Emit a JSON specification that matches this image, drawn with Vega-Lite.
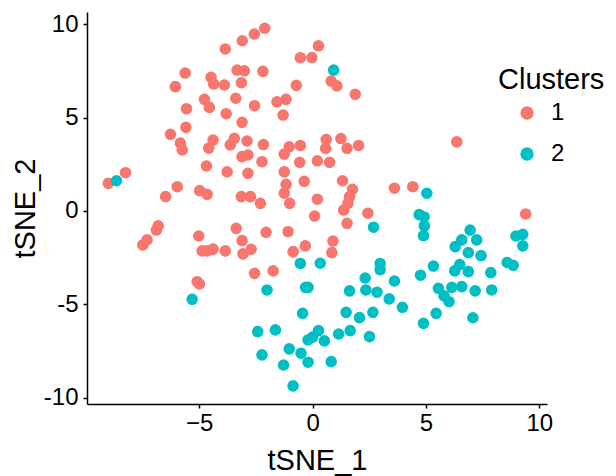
{
  "$schema": "https://vega.github.io/schema/vega-lite/v6.json",
  "autosize": {"type": "none"},
  "padding": {"left": 87, "top": 12, "right": 69, "bottom": 72},
  "width": 460,
  "height": 392,
  "background": "white",
  "config": {
    "view": {"stroke": null},
    "font": "Liberation Sans",
    "axis": {
      "grid": false,
      "domainColor": "black",
      "domainWidth": 1.5,
      "tickColor": "black",
      "tickWidth": 1.5,
      "tickSize": 4,
      "labelColor": "black",
      "labelFontSize": 24,
      "labelFont": "Liberation Sans",
      "titleFont": "Liberation Sans",
      "titleFontSize": 29,
      "titleFontWeight": "normal",
      "titleColor": "black"
    },
    "legend": {
      "titleFont": "Liberation Sans",
      "labelFont": "Liberation Sans",
      "titleFontSize": 29,
      "titleFontWeight": "normal",
      "titleColor": "black",
      "labelFontSize": 24,
      "labelColor": "black"
    }
  },
  "datasets": {
    "cells": [
      {"tSNE_1": -2.11, "tSNE_2": 9.79, "cluster": "1"},
      {"tSNE_1": -2.57, "tSNE_2": 9.48, "cluster": "1"},
      {"tSNE_1": -3.10, "tSNE_2": 9.12, "cluster": "1"},
      {"tSNE_1": -3.85, "tSNE_2": 8.68, "cluster": "1"},
      {"tSNE_1": 0.26, "tSNE_2": 8.85, "cluster": "1"},
      {"tSNE_1": -0.54, "tSNE_2": 8.21, "cluster": "1"},
      {"tSNE_1": -0.03, "tSNE_2": 8.22, "cluster": "1"},
      {"tSNE_1": -5.62, "tSNE_2": 7.39, "cluster": "1"},
      {"tSNE_1": -6.05, "tSNE_2": 6.66, "cluster": "1"},
      {"tSNE_1": -4.48, "tSNE_2": 7.16, "cluster": "1"},
      {"tSNE_1": -4.36, "tSNE_2": 6.80, "cluster": "1"},
      {"tSNE_1": -3.89, "tSNE_2": 6.75, "cluster": "1"},
      {"tSNE_1": -3.33, "tSNE_2": 7.55, "cluster": "1"},
      {"tSNE_1": -3.01, "tSNE_2": 7.51, "cluster": "1"},
      {"tSNE_1": -3.14, "tSNE_2": 6.87, "cluster": "1"},
      {"tSNE_1": -2.19, "tSNE_2": 7.48, "cluster": "1"},
      {"tSNE_1": -0.72, "tSNE_2": 6.73, "cluster": "1"},
      {"tSNE_1": -4.77, "tSNE_2": 5.98, "cluster": "1"},
      {"tSNE_1": -4.55, "tSNE_2": 5.55, "cluster": "1"},
      {"tSNE_1": -3.39, "tSNE_2": 6.04, "cluster": "1"},
      {"tSNE_1": -2.56, "tSNE_2": 5.64, "cluster": "1"},
      {"tSNE_1": -1.57, "tSNE_2": 5.85, "cluster": "1"},
      {"tSNE_1": -1.17, "tSNE_2": 5.98, "cluster": "1"},
      {"tSNE_1": -1.30, "tSNE_2": 5.14, "cluster": "1"},
      {"tSNE_1": -5.56, "tSNE_2": 5.48, "cluster": "1"},
      {"tSNE_1": -3.81, "tSNE_2": 5.21, "cluster": "1"},
      {"tSNE_1": -3.11, "tSNE_2": 4.75, "cluster": "1"},
      {"tSNE_1": -5.59, "tSNE_2": 4.48, "cluster": "1"},
      {"tSNE_1": -6.27, "tSNE_2": 4.11, "cluster": "1"},
      {"tSNE_1": -5.83, "tSNE_2": 3.64, "cluster": "1"},
      {"tSNE_1": -5.75, "tSNE_2": 3.27, "cluster": "1"},
      {"tSNE_1": -4.39, "tSNE_2": 3.80, "cluster": "1"},
      {"tSNE_1": -4.58, "tSNE_2": 3.37, "cluster": "1"},
      {"tSNE_1": -3.45, "tSNE_2": 3.89, "cluster": "1"},
      {"tSNE_1": -3.63, "tSNE_2": 3.54, "cluster": "1"},
      {"tSNE_1": -2.89, "tSNE_2": 3.75, "cluster": "1"},
      {"tSNE_1": -2.17, "tSNE_2": 3.56, "cluster": "1"},
      {"tSNE_1": -1.03, "tSNE_2": 3.44, "cluster": "1"},
      {"tSNE_1": -0.54, "tSNE_2": 3.51, "cluster": "1"},
      {"tSNE_1": 0.82, "tSNE_2": 6.96, "cluster": "1"},
      {"tSNE_1": 1.07, "tSNE_2": 6.70, "cluster": "1"},
      {"tSNE_1": 1.88, "tSNE_2": 6.25, "cluster": "1"},
      {"tSNE_1": 6.36, "tSNE_2": 3.70, "cluster": "1"},
      {"tSNE_1": 0.60, "tSNE_2": 3.83, "cluster": "1"},
      {"tSNE_1": 1.25, "tSNE_2": 3.88, "cluster": "1"},
      {"tSNE_1": 0.58, "tSNE_2": 3.35, "cluster": "1"},
      {"tSNE_1": 1.52, "tSNE_2": 3.36, "cluster": "1"},
      {"tSNE_1": 2.03, "tSNE_2": 3.51, "cluster": "1"},
      {"tSNE_1": -1.25, "tSNE_2": 3.05, "cluster": "1"},
      {"tSNE_1": -3.11, "tSNE_2": 2.91, "cluster": "1"},
      {"tSNE_1": -2.85, "tSNE_2": 3.00, "cluster": "1"},
      {"tSNE_1": -2.23, "tSNE_2": 2.64, "cluster": "1"},
      {"tSNE_1": -0.57, "tSNE_2": 2.61, "cluster": "1"},
      {"tSNE_1": 0.21, "tSNE_2": 2.69, "cluster": "1"},
      {"tSNE_1": 0.75, "tSNE_2": 2.61, "cluster": "1"},
      {"tSNE_1": -8.25, "tSNE_2": 2.05, "cluster": "1"},
      {"tSNE_1": -9.01, "tSNE_2": 1.48, "cluster": "1"},
      {"tSNE_1": -4.68, "tSNE_2": 2.41, "cluster": "1"},
      {"tSNE_1": -3.77, "tSNE_2": 2.10, "cluster": "1"},
      {"tSNE_1": -2.85, "tSNE_2": 2.02, "cluster": "1"},
      {"tSNE_1": -1.25, "tSNE_2": 2.10, "cluster": "1"},
      {"tSNE_1": -1.17, "tSNE_2": 1.43, "cluster": "1"},
      {"tSNE_1": -1.25, "tSNE_2": 0.95, "cluster": "1"},
      {"tSNE_1": -1.01, "tSNE_2": 0.41, "cluster": "1"},
      {"tSNE_1": -0.37, "tSNE_2": 1.59, "cluster": "1"},
      {"tSNE_1": 0.21, "tSNE_2": 0.63, "cluster": "1"},
      {"tSNE_1": 0.09, "tSNE_2": -0.27, "cluster": "1"},
      {"tSNE_1": -5.97, "tSNE_2": 1.30, "cluster": "1"},
      {"tSNE_1": -6.48, "tSNE_2": 0.77, "cluster": "1"},
      {"tSNE_1": -4.98, "tSNE_2": 1.09, "cluster": "1"},
      {"tSNE_1": -4.65, "tSNE_2": 0.89, "cluster": "1"},
      {"tSNE_1": -3.14, "tSNE_2": 0.77, "cluster": "1"},
      {"tSNE_1": -2.74, "tSNE_2": 0.77, "cluster": "1"},
      {"tSNE_1": -2.30, "tSNE_2": 0.41, "cluster": "1"},
      {"tSNE_1": -6.81, "tSNE_2": -0.80, "cluster": "1"},
      {"tSNE_1": -6.89, "tSNE_2": -1.02, "cluster": "1"},
      {"tSNE_1": -7.30, "tSNE_2": -1.55, "cluster": "1"},
      {"tSNE_1": -7.49, "tSNE_2": -1.82, "cluster": "1"},
      {"tSNE_1": -5.02, "tSNE_2": -1.34, "cluster": "1"},
      {"tSNE_1": -3.37, "tSNE_2": -0.93, "cluster": "1"},
      {"tSNE_1": -2.05, "tSNE_2": -1.14, "cluster": "1"},
      {"tSNE_1": -1.08, "tSNE_2": -1.11, "cluster": "1"},
      {"tSNE_1": -3.11, "tSNE_2": -1.59, "cluster": "1"},
      {"tSNE_1": -2.71, "tSNE_2": -2.05, "cluster": "1"},
      {"tSNE_1": -3.07, "tSNE_2": -2.30, "cluster": "1"},
      {"tSNE_1": -4.87, "tSNE_2": -2.14, "cluster": "1"},
      {"tSNE_1": -4.65, "tSNE_2": -2.14, "cluster": "1"},
      {"tSNE_1": -4.39, "tSNE_2": -2.04, "cluster": "1"},
      {"tSNE_1": -3.85, "tSNE_2": -2.14, "cluster": "1"},
      {"tSNE_1": -0.86, "tSNE_2": -2.18, "cluster": "1"},
      {"tSNE_1": -0.32, "tSNE_2": -1.87, "cluster": "1"},
      {"tSNE_1": -2.56, "tSNE_2": -3.34, "cluster": "1"},
      {"tSNE_1": -1.74, "tSNE_2": -3.21, "cluster": "1"},
      {"tSNE_1": -5.09, "tSNE_2": -3.79, "cluster": "1"},
      {"tSNE_1": -4.99, "tSNE_2": -3.91, "cluster": "1"},
      {"tSNE_1": 1.32, "tSNE_2": 1.62, "cluster": "1"},
      {"tSNE_1": 1.76, "tSNE_2": 1.16, "cluster": "1"},
      {"tSNE_1": 1.63, "tSNE_2": 0.77, "cluster": "1"},
      {"tSNE_1": 1.56, "tSNE_2": 0.41, "cluster": "1"},
      {"tSNE_1": 1.37, "tSNE_2": 0.05, "cluster": "1"},
      {"tSNE_1": 1.52, "tSNE_2": -0.66, "cluster": "1"},
      {"tSNE_1": 2.44, "tSNE_2": -0.12, "cluster": "1"},
      {"tSNE_1": 3.61, "tSNE_2": 1.22, "cluster": "1"},
      {"tSNE_1": 4.42, "tSNE_2": 1.30, "cluster": "1"},
      {"tSNE_1": 9.40, "tSNE_2": -0.16, "cluster": "1"},
      {"tSNE_1": 0.90, "tSNE_2": -1.61, "cluster": "1"},
      {"tSNE_1": 0.85, "tSNE_2": -2.23, "cluster": "1"},
      {"tSNE_1": 0.93, "tSNE_2": 7.55, "cluster": "2"},
      {"tSNE_1": -8.65, "tSNE_2": 1.62, "cluster": "2"},
      {"tSNE_1": 5.04, "tSNE_2": 0.95, "cluster": "2"},
      {"tSNE_1": 4.70, "tSNE_2": -0.19, "cluster": "2"},
      {"tSNE_1": 4.92, "tSNE_2": -0.32, "cluster": "2"},
      {"tSNE_1": 4.93, "tSNE_2": -0.80, "cluster": "2"},
      {"tSNE_1": 4.89, "tSNE_2": -1.32, "cluster": "2"},
      {"tSNE_1": 2.69, "tSNE_2": -0.87, "cluster": "2"},
      {"tSNE_1": -0.54, "tSNE_2": -2.81, "cluster": "2"},
      {"tSNE_1": 0.34, "tSNE_2": -2.80, "cluster": "2"},
      {"tSNE_1": 2.98, "tSNE_2": -2.81, "cluster": "2"},
      {"tSNE_1": 2.98, "tSNE_2": -3.14, "cluster": "2"},
      {"tSNE_1": 2.32, "tSNE_2": -3.59, "cluster": "2"},
      {"tSNE_1": 3.61, "tSNE_2": -3.75, "cluster": "2"},
      {"tSNE_1": 4.76, "tSNE_2": -3.44, "cluster": "2"},
      {"tSNE_1": 5.33, "tSNE_2": -2.95, "cluster": "2"},
      {"tSNE_1": 6.95, "tSNE_2": -1.02, "cluster": "2"},
      {"tSNE_1": 7.24, "tSNE_2": -1.55, "cluster": "2"},
      {"tSNE_1": 6.58, "tSNE_2": -1.55, "cluster": "2"},
      {"tSNE_1": 6.29, "tSNE_2": -1.91, "cluster": "2"},
      {"tSNE_1": 6.87, "tSNE_2": -2.23, "cluster": "2"},
      {"tSNE_1": 7.43, "tSNE_2": -2.39, "cluster": "2"},
      {"tSNE_1": 6.49, "tSNE_2": -2.87, "cluster": "2"},
      {"tSNE_1": 6.27, "tSNE_2": -3.21, "cluster": "2"},
      {"tSNE_1": 6.87, "tSNE_2": -3.25, "cluster": "2"},
      {"tSNE_1": 7.86, "tSNE_2": -3.30, "cluster": "2"},
      {"tSNE_1": 8.58, "tSNE_2": -2.76, "cluster": "2"},
      {"tSNE_1": 8.85, "tSNE_2": -2.91, "cluster": "2"},
      {"tSNE_1": 8.97, "tSNE_2": -1.34, "cluster": "2"},
      {"tSNE_1": 9.27, "tSNE_2": -1.25, "cluster": "2"},
      {"tSNE_1": 9.27, "tSNE_2": -1.87, "cluster": "2"},
      {"tSNE_1": -5.31, "tSNE_2": -4.73, "cluster": "2"},
      {"tSNE_1": -2.01, "tSNE_2": -4.23, "cluster": "2"},
      {"tSNE_1": -0.31, "tSNE_2": -4.09, "cluster": "2"},
      {"tSNE_1": -0.20, "tSNE_2": -4.09, "cluster": "2"},
      {"tSNE_1": -0.44, "tSNE_2": -5.48, "cluster": "2"},
      {"tSNE_1": -2.42, "tSNE_2": -6.46, "cluster": "2"},
      {"tSNE_1": -1.64, "tSNE_2": -6.37, "cluster": "2"},
      {"tSNE_1": -2.23, "tSNE_2": -7.71, "cluster": "2"},
      {"tSNE_1": -1.03, "tSNE_2": -7.39, "cluster": "2"},
      {"tSNE_1": -0.51, "tSNE_2": -7.62, "cluster": "2"},
      {"tSNE_1": -0.20, "tSNE_2": -8.10, "cluster": "2"},
      {"tSNE_1": -1.28, "tSNE_2": -8.25, "cluster": "2"},
      {"tSNE_1": -0.86, "tSNE_2": -9.37, "cluster": "2"},
      {"tSNE_1": -0.20, "tSNE_2": -6.91, "cluster": "2"},
      {"tSNE_1": 0.00, "tSNE_2": -6.76, "cluster": "2"},
      {"tSNE_1": 0.26, "tSNE_2": -6.41, "cluster": "2"},
      {"tSNE_1": 0.52, "tSNE_2": -6.96, "cluster": "2"},
      {"tSNE_1": 1.15, "tSNE_2": -6.59, "cluster": "2"},
      {"tSNE_1": 1.66, "tSNE_2": -6.41, "cluster": "2"},
      {"tSNE_1": 2.51, "tSNE_2": -6.73, "cluster": "2"},
      {"tSNE_1": 0.82, "tSNE_2": -8.07, "cluster": "2"},
      {"tSNE_1": 1.63, "tSNE_2": -4.28, "cluster": "2"},
      {"tSNE_1": 2.35, "tSNE_2": -4.23, "cluster": "2"},
      {"tSNE_1": 2.84, "tSNE_2": -4.35, "cluster": "2"},
      {"tSNE_1": 3.38, "tSNE_2": -4.71, "cluster": "2"},
      {"tSNE_1": 3.96, "tSNE_2": -5.16, "cluster": "2"},
      {"tSNE_1": 1.48, "tSNE_2": -5.43, "cluster": "2"},
      {"tSNE_1": 2.07, "tSNE_2": -5.71, "cluster": "2"},
      {"tSNE_1": 2.66, "tSNE_2": -5.43, "cluster": "2"},
      {"tSNE_1": 5.55, "tSNE_2": -4.14, "cluster": "2"},
      {"tSNE_1": 6.14, "tSNE_2": -4.09, "cluster": "2"},
      {"tSNE_1": 6.58, "tSNE_2": -4.05, "cluster": "2"},
      {"tSNE_1": 7.17, "tSNE_2": -4.28, "cluster": "2"},
      {"tSNE_1": 7.90, "tSNE_2": -4.23, "cluster": "2"},
      {"tSNE_1": 5.80, "tSNE_2": -4.55, "cluster": "2"},
      {"tSNE_1": 6.02, "tSNE_2": -4.86, "cluster": "2"},
      {"tSNE_1": 5.45, "tSNE_2": -5.48, "cluster": "2"},
      {"tSNE_1": 4.89, "tSNE_2": -6.02, "cluster": "2"},
      {"tSNE_1": 7.07, "tSNE_2": -5.72, "cluster": "2"}
    ]
  },
  "data": {"name": "cells"},
  "mark": {"type": "circle", "size": 135, "opacity": 1},
  "encoding": {
    "x": {
      "field": "tSNE_1",
      "type": "quantitative",
      "scale": {"domain": [-9.95, 10.34], "nice": false, "zero": false},
      "axis": {"values": [-5, 0, 5, 10], "title": "tSNE_1", "labelPadding": 3, "titlePadding": 11}
    },
    "y": {
      "field": "tSNE_2",
      "type": "quantitative",
      "scale": {"domain": [-10.34, 10.66], "nice": false, "zero": false},
      "axis": {"values": [-10, -5, 0, 5, 10], "title": "tSNE_2", "labelPadding": 5, "titlePadding": 3, "labelExpr": "replace(datum.label, '−', '-')"}
    },
    "color": {
      "field": "cluster",
      "type": "nominal",
      "scale": {"domain": ["1", "2"], "range": ["#F8766D", "#00BFC4"]},
      "legend": {
        "title": "Clusters",
        "orient": "none",
        "legendX": 411,
        "legendY": 54,
        "padding": 0,
        "symbolType": "circle",
        "symbolSize": 177,
        "symbolOffset": 17,
        "symbolStrokeWidth": 0,
        "labelOffset": 12,
        "titlePadding": 6,
        "rowPadding": 17
      }
    },
    "order": {"field": "cluster", "type": "nominal"}
  }
}
